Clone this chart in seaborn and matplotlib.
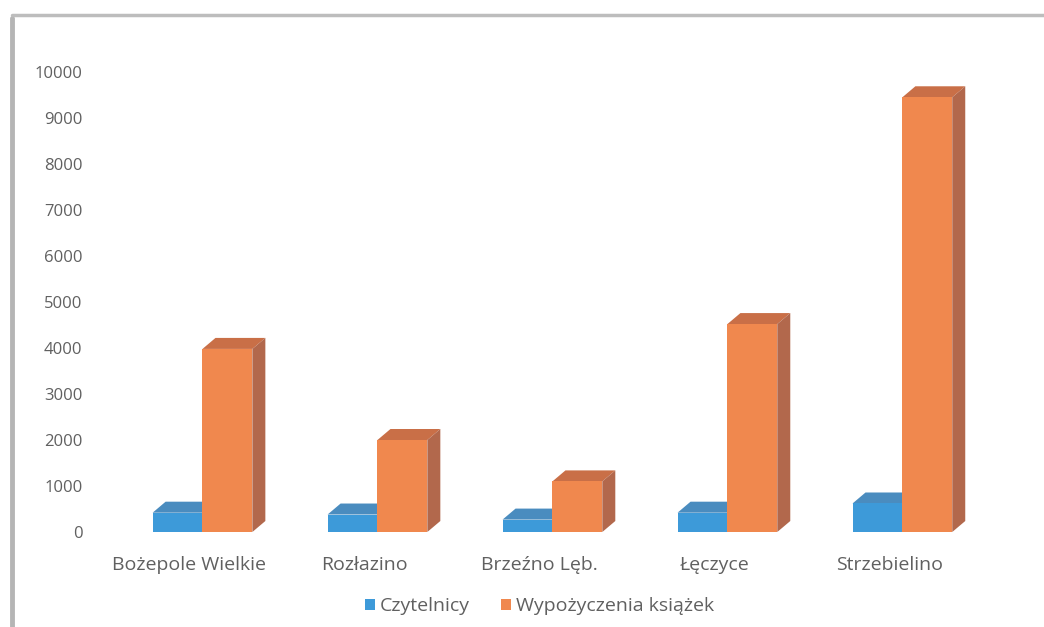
import matplotlib
matplotlib.use("Agg")
import matplotlib.pyplot as plt
import matplotlib.transforms as mtransforms
import seaborn as sns
import pandas as pd
from matplotlib.patches import Polygon, Patch
from matplotlib.lines import Line2D

# ---- data ----
categories = ["Bożepole Wielkie", "Rozłazino", "Brzeźno Lęb.", "Łęczyce", "Strzebielino"]
series = ["Czytelnicy", "Wypożyczenia książek"]
czytelnicy = [420, 380, 270, 420, 620]
wypozyczenia = [3980, 2000, 1100, 4520, 9450]
yticks = list(range(0, 10001, 1000))

front_colors = {"Czytelnicy": "#3d9ad9", "Wypożyczenia książek": "#f0884e"}
top_colors = {"Czytelnicy": "#4a8cbf", "Wypożyczenia książek": "#c96f47"}
side_colors = {"Czytelnicy": "#2f78ad", "Wypożyczenia książek": "#b2684c"}

df = pd.DataFrame({
    "Miejscowość": categories * 2,
    "Seria": [series[0]] * len(categories) + [series[1]] * len(categories),
    "Wartość": czytelnicy + wypozyczenia,
})

sns.set_theme(style="white")
plt.rcParams["font.family"] = ["Open Sans", "DejaVu Sans"]
text_color = "#606060"

fig = plt.figure(figsize=(10.44, 6.27), dpi=100)
ax = fig.add_axes([0.0977, 0.1515, 0.838, 0.7337])

sns.barplot(data=df, x="Miejscowość", y="Wartość", hue="Seria", hue_order=series,
            order=categories, palette=front_colors, width=0.57, saturation=1,
            linewidth=0, errorbar=None, legend=False, ax=ax)

ax.set_xlim(-0.5, 4.5)
ax.set_ylim(0, 10000)
ax.set_yticks(yticks)
ax.set_yticklabels([str(v) for v in yticks])
ax.set_xlabel("")
ax.set_ylabel("")
for s in ax.spines.values():
    s.set_visible(False)
ax.tick_params(axis="y", length=0, pad=14, labelsize=12, labelcolor=text_color)
ax.tick_params(axis="x", length=0, pad=17, labelsize=14, labelcolor=text_color)

# shift the bar group slightly right (perspective of the 3D floor)
shift = mtransforms.Affine2D().translate(13, 0)
bars = [p for p in ax.patches if p.get_height() > 0]
for p in bars:
    p.set_transform(ax.transData + shift)

# ---- 3D faces derived from the bars seaborn drew ----
fig.canvas.draw()
inv = ax.transData.inverted()
dx, dy = 13, 11  # pixel depth offset
n = len(categories)
for i, p in enumerate(bars):
    ser = series[0] if i < n else series[1]
    bb = p.get_window_extent()
    x0, y0, x1, y1 = bb.x0, bb.y0, bb.x1, bb.y1
    top = [(x0, y1), (x1, y1), (x1 + dx, y1 + dy), (x0 + dx, y1 + dy)]
    side = [(x1, y0), (x1 + dx, y0 + dy), (x1 + dx, y1 + dy), (x1, y1)]
    for pts, col in ((top, top_colors[ser]), (side, side_colors[ser])):
        dpts = inv.transform(pts)
        ax.add_patch(Polygon(dpts, closed=True, facecolor=col, edgecolor="none",
                             zorder=0.9, clip_on=False))

# ---- legend ----
handles = [Patch(facecolor=front_colors[s], edgecolor="none") for s in series]
ax.legend(handles, series, loc="center", bbox_to_anchor=(0.5, -0.161), ncol=2,
          frameon=False, handlelength=0.5, handleheight=0.5, handletextpad=0.25,
          columnspacing=1.6, labelcolor=text_color, prop={"size": 14})

# ---- frame lines ----
fig.add_artist(Line2D([0.0115, 0.0115], [0.0, 1 - 18 / 627], color="#b5b5b5", lw=3.5))
fig.add_artist(Line2D([0.0115, 1.0], [1 - 15 / 627, 1 - 15 / 627], color="#bdbdbd", lw=2.5))

fig.savefig("out.png", dpi=100)
